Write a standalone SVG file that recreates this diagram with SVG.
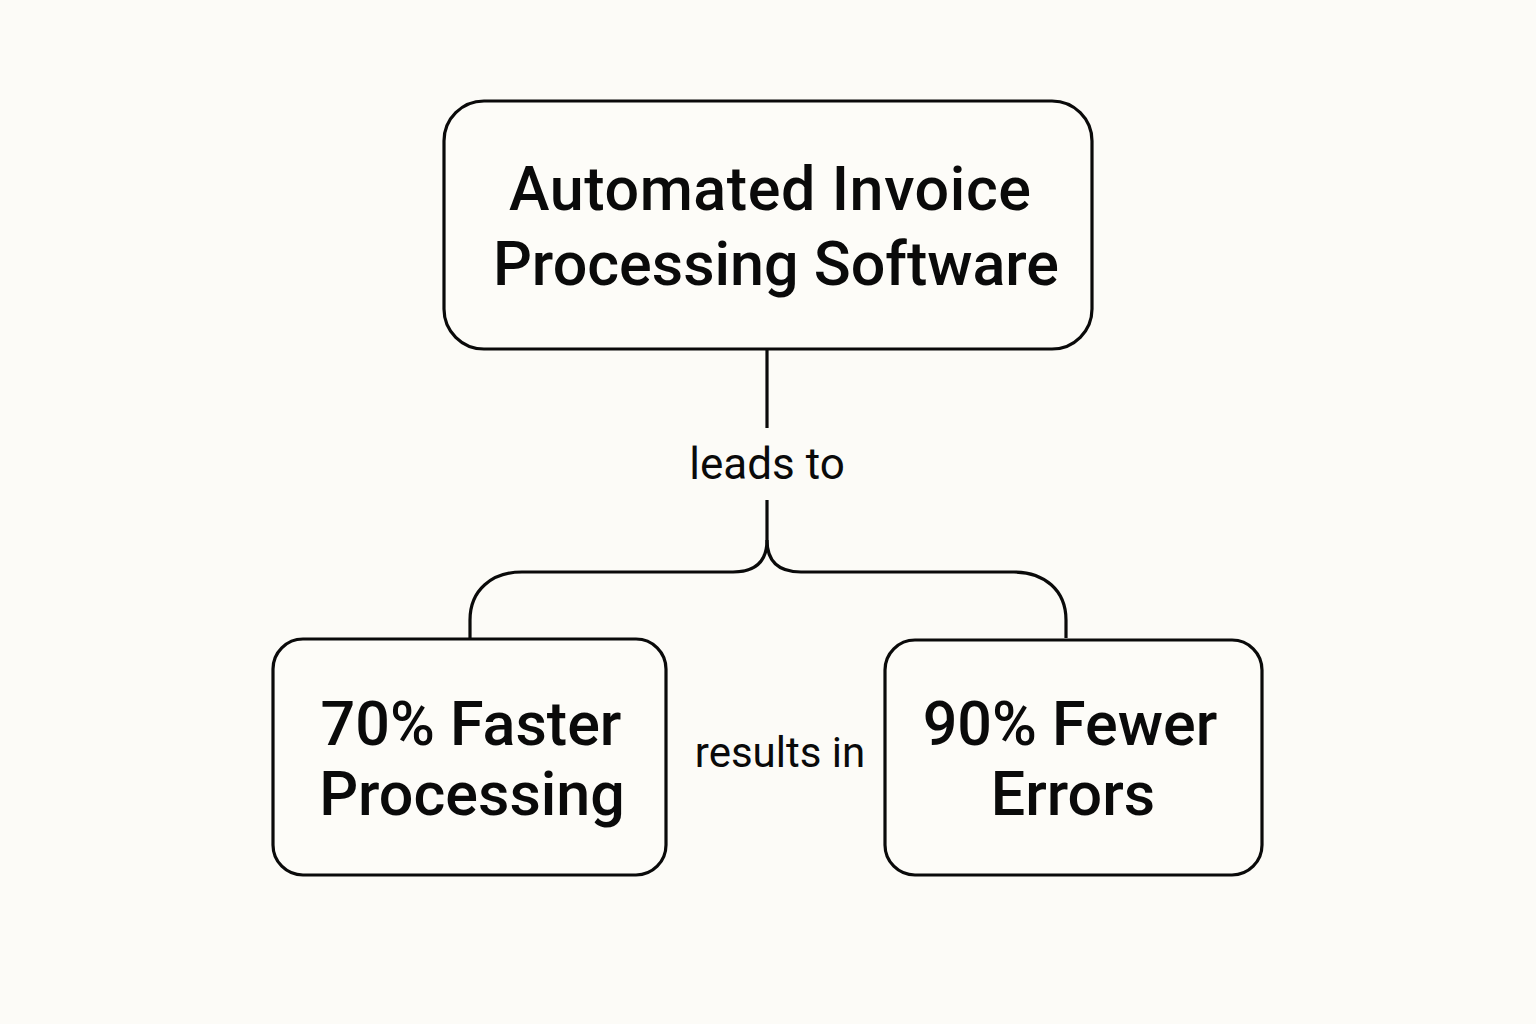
<svg xmlns="http://www.w3.org/2000/svg" width="1536" height="1024" viewBox="0 0 1536 1024">
<style>
.box{fill:#FDFCF8;stroke:#0a0a0a;stroke-width:3.2}
.t{font-family:Roboto,"Liberation Sans",sans-serif;font-size:61px;font-weight:500;fill:#0a0a0a;text-anchor:middle}
.l{font-family:Roboto,"Liberation Sans",sans-serif;font-size:42px;fill:#0a0a0a;text-anchor:middle}
.c{fill:none;stroke:#0a0a0a;stroke-width:3.2}
</style>
<rect width="1536" height="1024" fill="#FCFBF7"/>
<g id="connectors">
<path class="c" d="M767,349 V428"/>
<path class="c" d="M767,500 V540 C767,562 755,572 733,572 H522 C492,572 470,590 470,620 V638"/>
<path class="c" d="M767,540 C767,562 779,572 801,572 H1014 C1044,572 1066,590 1066,620 V638"/>
<text class="l" x="767" y="479" style="font-size:44px">leads to</text>
<text class="l" x="780" y="767">results in</text>
</g>
<g id="top">
<rect class="box" x="444" y="101" width="648" height="248" rx="40"/>
<text class="t" x="770" y="210" textLength="522">Automated Invoice</text>
<text class="t" x="776" y="285">Processing Software</text>
</g>
<g id="left">
<rect class="box" x="273" y="639" width="393" height="236" rx="30"/>
<text class="t" x="471" y="745">70% Faster</text>
<text class="t" x="472" y="815">Processing</text>
</g>
<g id="right">
<rect class="box" x="885" y="640" width="377" height="235" rx="30"/>
<text class="t" x="1070" y="745">90% Fewer</text>
<text class="t" x="1073" y="815">Errors</text>
</g>
</svg>
